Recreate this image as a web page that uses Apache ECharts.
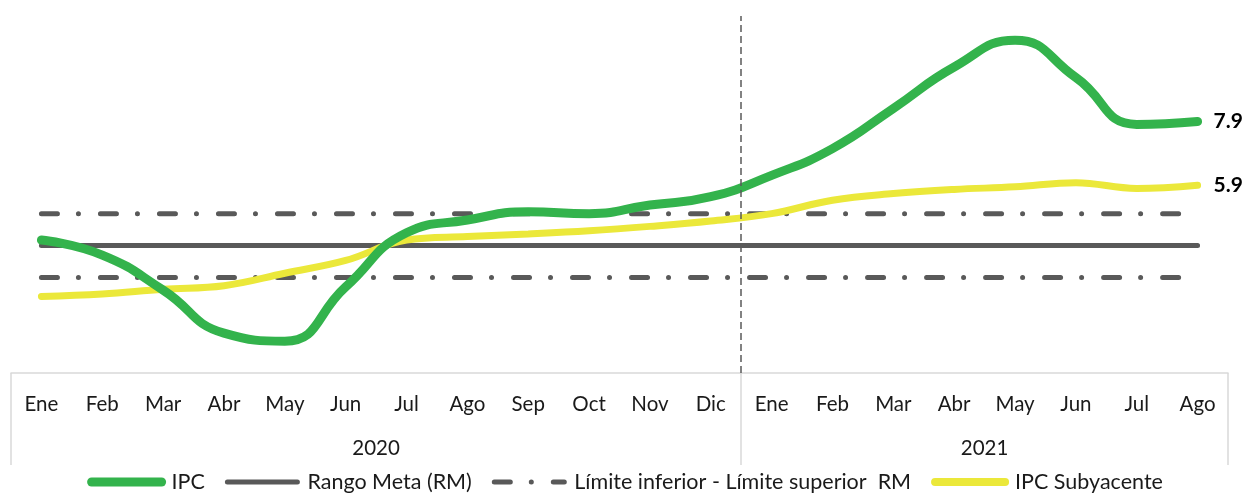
<!DOCTYPE html>
<html>
<head>
<meta charset="utf-8">
<script src="https://cdn.jsdelivr.net/npm/echarts@6/dist/echarts.min.js"></script>
<style>
  html, body { margin: 0; padding: 0; background: #fff; }
  #chart { width: 1250px; height: 497px; }
</style>
</head>
<body>
<div id="chart"></div>
<script>
const months = ['Ene', 'Feb', 'Mar', 'Abr', 'May', 'Jun', 'Jul', 'Ago', 'Sep', 'Oct', 'Nov', 'Dic',
  'Ene', 'Feb', 'Mar', 'Abr', 'May', 'Jun', 'Jul', 'Ago']
const years = ['2020', '2021']
// posiciones de los grupos de años sobre el eje auxiliar (0..20)
const yearCenters = [6, 16]
const yearBounds = [0, 12, 20]

const ipc = [4.17, 3.7, 2.6, 1.25, 1.0, 2.7, 4.4, 4.8, 5.06, 5.0, 5.27, 5.53,
  6.2, 7.04, 8.3, 9.6, 10.44, 9.27, 7.8, 7.89]
const ipcSub = [2.4, 2.48, 2.63, 2.74, 3.13, 3.53, 4.17, 4.28, 4.36, 4.46, 4.6, 4.77,
  5.0, 5.42, 5.63, 5.76, 5.84, 5.97, 5.79, 5.89]
const rangoMeta = [4, 4, 4, 4, 4, 4, 4, 4, 4, 4, 4, 4, 4, 4, 4, 4, 4, 4, 4, 4]
const limInf = [3, 3, 3, 3, 3, 3, 3, 3, 3, 3, 3, 3, 3, 3, 3, 3, 3, 3, 3, 3]
const limSup = [5, 5, 5, 5, 5, 5, 5, 5, 5, 5, 5, 5, 5, 5, 5, 5, 5, 5, 5, 5]

const font = 'Lato, "Open Sans", sans-serif'
const textColor = '#1a1a1a'
const dashDot = [16, 21, 0.01, 22]
const limName = 'Límite inferior - Límite superior  RM'

const chart = echarts.init(document.getElementById('chart'))

const endLabel = {
  show: true,
  distance: 16,
  fontSize: 21,
  fontWeight: 'bold',
  color: '#000',
  formatter: p => p.value.toFixed(1)
}

const option = {
  animation: false,
  textStyle: { fontFamily: font },
  grid: { left: 11, right: 22, top: 16, bottom: 124 },
  legend: {
    bottom: -1,
    left: 'center',
    itemWidth: 70,
    itemHeight: 12,
    itemGap: 20,
    textStyle: { fontSize: 21.5, color: textColor, fontFamily: font, padding: [0, 0, 0, 5] },
    itemStyle: { opacity: 0 },
    data: [
      { name: 'IPC', lineStyle: { width: 9, cap: 'round' } },
      { name: 'Rango Meta (RM)', lineStyle: { width: 5, cap: 'round' } },
      { name: limName, lineStyle: { width: 5, cap: 'round' } },
      { name: 'IPC Subyacente', lineStyle: { width: 8, cap: 'round' } }
    ]
  },
  xAxis: [
    {
      type: 'category',
      data: months,
      position: 'bottom',
      axisLine: { lineStyle: { color: '#d9d9d9', width: 1.5 } },
      axisTick: { show: false },
      axisLabel: { fontSize: 20.5, color: textColor, margin: 21, interval: 0 }
    },
    {
      type: 'value',
      min: 0,
      max: 20,
      position: 'bottom',
      axisLine: { show: false },
      splitLine: { show: false },
      axisTick: {
        show: true,
        customValues: yearBounds,
        length: 92,
        lineStyle: { color: '#d9d9d9', width: 1.5 }
      },
      axisLabel: {
        customValues: yearCenters,
        fontSize: 20.5,
        color: textColor,
        margin: 65,
        formatter: v => years[yearCenters.indexOf(v)]
      }
    }
  ],
  yAxis: {
    type: 'value',
    show: false,
    min: 0,
    max: 11.2,
    splitLine: { show: false }
  },
  series: [
    {
      name: limName,
      type: 'line',
      data: limInf,
      symbol: 'none',
      lineStyle: { color: '#595959', width: 5, type: dashDot, cap: 'round' },
      itemStyle: { color: '#595959' }
    },
    {
      name: limName,
      type: 'line',
      data: limSup,
      symbol: 'none',
      lineStyle: { color: '#595959', width: 5, type: dashDot, cap: 'round' },
      itemStyle: { color: '#595959' }
    },
    {
      name: 'Rango Meta (RM)',
      type: 'line',
      data: rangoMeta,
      symbol: 'none',
      lineStyle: { color: '#595959', width: 5, cap: 'round' },
      itemStyle: { color: '#595959' }
    },
    {
      name: 'IPC Subyacente',
      type: 'line',
      data: ipcSub,
      symbol: 'none',
      smooth: 0.4,
      lineStyle: { color: '#ebe83a', width: 7, cap: 'round' },
      itemStyle: { color: '#ebe83a' },
      endLabel: endLabel
    },
    {
      name: 'IPC',
      type: 'line',
      data: ipc,
      symbol: 'none',
      smooth: 0.5,
      lineStyle: { color: '#33b34c', width: 9, cap: 'round' },
      itemStyle: { color: '#33b34c' },
      endLabel: endLabel
    },
    {
      type: 'line',
      xAxisIndex: 1,
      data: [],
      markLine: {
        silent: true,
        symbol: 'none',
        label: { show: false },
        lineStyle: { color: '#595959', width: 1.5, type: [7, 4] },
        data: [{ xAxis: yearBounds[1] }]
      }
    }
  ]
}

chart.setOption(option)
</script>
</body>
</html>
